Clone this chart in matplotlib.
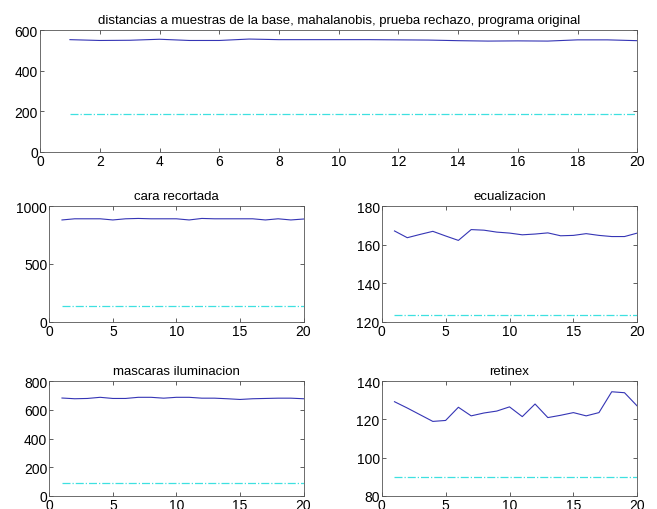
import matplotlib
matplotlib.use("Agg")
import matplotlib.pyplot as plt

# muestras 1..20
x = list(range(1, 21))

original = [553, 549, 550, 555, 549, 549, 556, 553, 553, 553,
            553, 552, 551, 548, 546, 547, 546, 552, 552, 548]
original_umbral = 188

recortada = [880, 890, 890, 890, 880, 890, 893, 890, 890, 890,
             880, 893, 890, 890, 890, 890, 880, 890, 880, 888]
recortada_umbral = 135

ecualizacion = [167.1, 163.6, 165.3, 166.9, 164.5, 162.2, 167.8, 167.5, 166.5, 166.0,
                165.1, 165.5, 166.1, 164.6, 164.8, 165.7, 164.8, 164.2, 164.2, 166.0]
ecualizacion_umbral = 123.4

mascaras = [683, 678, 680, 688, 680, 680, 688, 688, 682, 688,
            688, 682, 682, 678, 673, 678, 680, 682, 682, 678]
mascaras_umbral = 90

retinex = [129.3, 126.0, 122.5, 119.0, 119.5, 126.4, 121.9, 123.4, 124.4, 126.6,
           121.5, 128.1, 121.0, 122.2, 123.6, 121.9, 123.6, 134.5, 134.0, 127.0]
retinex_umbral = 89.8

plt.rcParams.update({"font.family": ["Liberation Sans", "DejaVu Sans"], "font.size": 9})

C_LINE, C_THR = "#3535b5", "#3ee0e0"

fig = plt.figure(figsize=(6.57, 5.10), dpi=100)

def panel(rect, y, thr, title, ylim, yticks, xticks):
    ax = fig.add_axes(rect)
    ax.plot(x, y, "-", color=C_LINE, lw=0.8)
    ax.plot(x, [thr] * len(x), "-.", color=C_THR, lw=0.9)
    ax.set_xlim(0, 20); ax.set_ylim(*ylim)
    ax.set_xticks(xticks); ax.set_yticks(yticks)
    ax.set_title(title, fontsize=9.5, pad=5)
    ax.tick_params(direction="in", top=True, right=True, length=3, width=0.6,
                   labelsize=10, pad=1.5, color="#444444")
    for s in ax.spines.values():
        s.set_linewidth(0.6); s.set_color("#555555")
    return ax

panel([0.061, 0.700, 0.909, 0.239], original, original_umbral,
      "distancias a muestras de la base, mahalanobis, prueba rechazo, programa original",
      (0, 600), [0, 200, 400, 600], list(range(0, 21, 2)))
panel([0.075, 0.367, 0.387, 0.227], recortada, recortada_umbral,
      "cara recortada", (0, 1000), [0, 500, 1000], [0, 5, 10, 15, 20])
panel([0.581, 0.367, 0.389, 0.227], ecualizacion, ecualizacion_umbral,
      "ecualizacion", (120, 180), [120, 140, 160, 180], [0, 5, 10, 15, 20])
panel([0.075, 0.0255, 0.387, 0.225], mascaras, mascaras_umbral,
      "mascaras iluminacion", (0, 800), [0, 200, 400, 600, 800], [0, 5, 10, 15, 20])
panel([0.581, 0.0255, 0.389, 0.225], retinex, retinex_umbral,
      "retinex", (80, 140), [80, 100, 120, 140], [0, 5, 10, 15, 20])

fig.savefig("out.png", dpi=100)
